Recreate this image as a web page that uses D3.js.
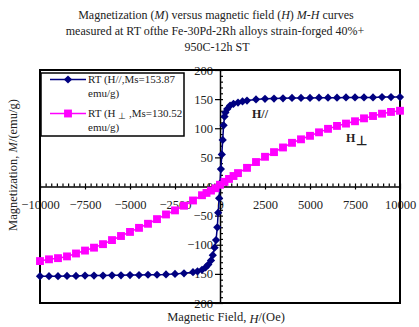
<!DOCTYPE html>
<html>
<head>
<meta charset="utf-8">
<script src="https://cdn.jsdelivr.net/npm/d3@7"></script>
<style>
  body { margin: 0; background: #fff; }
  svg { font-family: "Liberation Serif", "Times New Roman", serif; }
</style>
</head>
<body>
<script>
// H// curve (navy diamonds)
var parH = [-10000,-9500,-9000,-8500,-8000,-7500,-7000,-6500,-6000,-5500,-5000,-4500,-4000,-3500,-3000,-2500,-2000,-1500,-1250,-1000,-800,-650,-500,-400,-300,-220,-150,-100,-50,0,50,100,150,200,250,300,400,560,750,1000,1250,1500,2000,2500,3000,3500,4000,4500,5000,5500,6000,6500,7000,7500,8000,8500,9000,9500,10000];
var parM = [-154,-154,-154,-153.5,-153.5,-153,-153,-153,-152.5,-152.5,-152,-152,-151.5,-151.5,-151,-150,-149,-147,-145.5,-143,-139,-134,-127,-118,-105,-92,-70,-45,-20,5,30,55,80,105,120,127,133,139,142,144,146,147.5,149.5,150.5,151,151.5,152,152,152,152.5,152.5,152.5,153,153,153,153,153.5,153.5,153.5];
// H perpendicular curve (magenta squares)
var perpH = [-10000,-9500,-9000,-8500,-8000,-7500,-7000,-6500,-6000,-5500,-5000,-4500,-4000,-3500,-3000,-2500,-2000,-1500,-1000,-750,-500,-250,0,250,500,750,1000,1500,2000,2500,3000,3500,4000,4500,5000,5500,6000,6500,7000,7500,8000,8500,9000,9500,10000];
var perpM = [-128,-125,-123,-120,-115,-110,-105,-99,-92,-85,-78,-71,-64,-56,-48,-41,-33,-24,-15,-11,-7,-3,3,8,13,18,23,32,42,51,59,67,75,81,87,93,99,104,108,112,117,121,125,128,130];

var xTicks = d3.range(-10000, 10001, 2500);
var xMinor = d3.range(-10000, 10001, 312.5);
var yTicks = d3.range(-200, 201, 50);
var yMinor = d3.range(-200, 201, 10);

var w = 419, h = 327;
var plot = {left: 40, right: 400, top: 70, bottom: 303};

var svg = d3.select('body').append('svg')
    .attr('width', w)
    .attr('height', h);

svg.append('rect').attr('width', w).attr('height', h).attr('fill', '#fff');

var x = d3.scaleLinear().domain([-10000, 10000]).range([plot.left, plot.right]);
var y = d3.scaleLinear().domain([-200, 200]).range([plot.bottom, plot.top]);

// title
var title = svg.append('text')
    .attr('text-anchor', 'middle')
    .attr('font-size', 12)
    .attr('fill', '#222');
var t1 = title.append('tspan').attr('x', 216).attr('y', 19);
t1.append('tspan').text('Magnetization (');
t1.append('tspan').attr('font-style', 'italic').text('M');
t1.append('tspan').text(') versus magnetic field (');
t1.append('tspan').attr('font-style', 'italic').text('H');
t1.append('tspan').text(') ');
t1.append('tspan').attr('font-style', 'italic').text('M-H');
t1.append('tspan').text(' curves');
title.append('tspan').attr('x', 215).attr('y', 35)
    .text('measured at RT ofthe Fe-30Pd-2Rh alloys strain-forged 40%+');
title.append('tspan').attr('x', 217).attr('y', 51).text('950C-12h ST');

// axes through origin
svg.append('g')
    .attr('transform', 'translate(0,' + y(0) + ')')
    .call(d3.axisBottom(x).tickValues(xTicks).tickSize(3).tickSizeOuter(0).tickPadding(11)
        .tickFormat(d3.format('d')));
svg.append('g')
    .attr('transform', 'translate(0,' + y(0) + ')')
    .call(d3.axisTop(x).tickValues(xMinor).tickSize(3).tickSizeOuter(0).tickFormat(''))
    .select('.domain').remove();

svg.append('g')
    .attr('transform', 'translate(' + x(0) + ',0)')
    .call(d3.axisLeft(y).tickValues(yTicks).tickSize(5).tickSizeOuter(0).tickPadding(2));
svg.append('g')
    .attr('transform', 'translate(' + x(0) + ',0)')
    .call(d3.axisRight(y).tickValues(yMinor).tickSize(3).tickSizeOuter(0).tickFormat(''))
    .select('.domain').remove();

svg.selectAll('.domain').attr('stroke-width', 1.5);
svg.selectAll('.tick line').attr('stroke-width', 1.2);
svg.selectAll('.tick text')
    .attr('font-family', '"Liberation Serif", serif')
    .attr('font-size', 12.5)
    .attr('fill', '#222');

// plot border
svg.append('rect')
    .attr('x', plot.left).attr('y', plot.top)
    .attr('width', plot.right - plot.left).attr('height', plot.bottom - plot.top)
    .attr('fill', 'none').attr('stroke', '#000').attr('stroke-width', 2);

var line = d3.line().x(function (d) { return x(d[0]); }).y(function (d) { return y(d[1]); });

var parData = parH.map(function (v, i) { return [v, parM[i]]; });
var perpData = perpH.map(function (v, i) { return [v, perpM[i]]; });

var diamond = d3.symbol().type(d3.symbolSquare).size(34);
var square = d3.symbol().type(d3.symbolSquare).size(62);

svg.append('path').datum(parData)
    .attr('d', line).attr('fill', 'none').attr('stroke', '#000080').attr('stroke-width', 1.5);
svg.selectAll('.dia').data(parData).enter().append('path')
    .attr('class', 'dia')
    .attr('d', diamond)
    .attr('transform', function (d) { return 'translate(' + x(d[0]) + ',' + y(d[1]) + ') rotate(45)'; })
    .attr('fill', '#000080');

svg.append('path').datum(perpData)
    .attr('d', line).attr('fill', 'none').attr('stroke', '#ff00ff').attr('stroke-width', 1.5);
svg.selectAll('.sq').data(perpData).enter().append('path')
    .attr('class', 'sq')
    .attr('d', square)
    .attr('transform', function (d) { return 'translate(' + x(d[0]) + ',' + y(d[1]) + ')'; })
    .attr('fill', '#ff00ff');

// annotations
svg.append('text').attr('x', 252).attr('y', 118)
    .attr('font-size', 12).attr('font-weight', 'bold').attr('fill', '#222').text('H//');
var ap = svg.append('text').attr('x', 346).attr('y', 142)
    .attr('font-size', 12).attr('font-weight', 'bold').attr('fill', '#222');
ap.append('tspan').text('H');
ap.append('tspan').attr('dx', 1).attr('dy', 3).attr('font-size', 13).text('⊥');

// legend
var lg = svg.append('g');
lg.append('rect').attr('x', 41).attr('y', 73).attr('width', 143).attr('height', 63)
    .attr('fill', '#fff').attr('stroke', '#000').attr('stroke-width', 1.5);
lg.append('line').attr('x1', 50).attr('x2', 86).attr('y1', 79.5).attr('y2', 79.5)
    .attr('stroke', '#000080').attr('stroke-width', 1.5);
lg.append('path').attr('d', diamond).attr('transform', 'translate(68,79.5) rotate(45)').attr('fill', '#000080');
lg.append('line').attr('x1', 50).attr('x2', 86).attr('y1', 113.5).attr('y2', 113.5)
    .attr('stroke', '#ff00ff').attr('stroke-width', 1.5);
lg.append('path').attr('d', square).attr('transform', 'translate(68,113.5)').attr('fill', '#ff00ff');

var lt = lg.append('g').attr('font-size', 11).attr('fill', '#222');
lt.append('text').attr('x', 88).attr('y', 83).text('RT (H//,Ms=153.87');
lt.append('text').attr('x', 88).attr('y', 97).text('emu/g)');
var l2 = lt.append('text').attr('x', 88).attr('y', 117);
l2.append('tspan').text('RT (H ');
l2.append('tspan').attr('dy', 2).attr('font-size', 9).text('⊥');
l2.append('tspan').attr('dy', -2).text(' ,Ms=130.52');
lt.append('text').attr('x', 88).attr('y', 131).text('emu/g)');

// axis titles
var yt = svg.append('text')
    .attr('transform', 'translate(17,165) rotate(-90)')
    .attr('text-anchor', 'middle')
    .attr('font-size', 12.5).attr('fill', '#222');
yt.append('tspan').text('Magnetization, ');
yt.append('tspan').attr('font-style', 'italic').text('M');
yt.append('tspan').text('/(emu/g)');

var xt = svg.append('text')
    .attr('x', 226).attr('y', 321)
    .attr('text-anchor', 'middle')
    .attr('font-size', 12.5).attr('fill', '#222');
xt.append('tspan').text('Magnetic Field, ');
xt.append('tspan').attr('font-style', 'italic').attr('dy', 2).text('H');
xt.append('tspan').attr('dy', -2).text('/(Oe)');
</script>
</body>
</html>
